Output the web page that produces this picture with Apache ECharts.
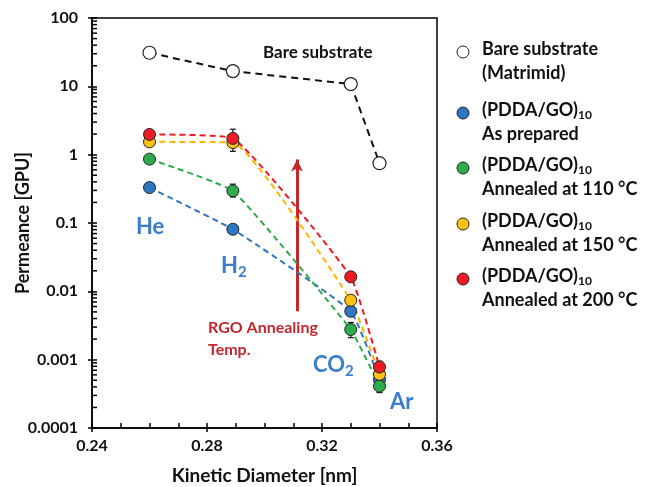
<!DOCTYPE html>
<html>
<head>
<meta charset="utf-8">
<script src="https://cdn.jsdelivr.net/npm/echarts@6/dist/echarts.min.js"></script>
<style>
  html, body { margin: 0; padding: 0; background: #fff; }
  #chart { width: 651px; height: 487px; }
</style>
</head>
<body>
<div id="chart"></div>
<script>
// kinetic diameters: He, H2, CO2, Ar
const kineticDiameter = [0.26, 0.289, 0.33, 0.34];

const bareSubstrate = [31, 16.7, 10.8, 0.75];
const asPrepared = [0.33, 0.081, 0.0051, 0.00051];
const annealed110 = [0.86, 0.295, 0.00276, 0.00041];
const annealed150 = [1.54, 1.5, 0.0074, 0.00061];
const annealed200 = [1.98, 1.73, 0.0163, 0.00078];

// [x, low, high]
const errorBars = [
  [0.289, 1.12, 2.36],
  [0.289, 0.24, 0.37],
  [0.33, 0.0021, 0.0035],
  [0.34, 0.00033, 0.0005],
  [0.34, 0.0007, 0.00095]
];

const yTickLabels = ["0.0001", "0.001", "0.01", "0.1", "1", "10", "100"];

const FONT = "Lato";
const BLUE = "#2e75c4";
const GREEN = "#2eab4b";
const YELLOW = "#ffc20e";
const RED = "#ed1c24";
const LABEL_BLUE = "#3a7dcc";
const DARK_RED = "#c1272d";

var myChart = echarts.init(document.getElementById("chart"));

// log-spaced minor ticks on y axis
const minorTicks = [];
for (let k = -4; k < 2; k++) {
  for (let m = 2; m <= 9; m++) {
    minorTicks.push([0.24, m * Math.pow(10, k)]);
  }
}

function toPoints(values) {
  return kineticDiameter.map((x, i) => [x, values[i]]);
}

function coloredSeries(name, values, fill, lineColor) {
  return {
    name: name,
    type: "line",
    data: toPoints(values),
    smooth: 0.12,
    symbol: "circle",
    symbolSize: 12,
    itemStyle: { color: fill, borderColor: "#222", borderWidth: 1 },
    lineStyle: { color: lineColor, width: 2, type: [6, 4] },
    z: 5
  };
}

const legendItems = [
  { color: "#fff", lines: ["Bare substrate", "(Matrimid)"], sub: false },
  { color: BLUE, lines: ["(PDDA/GO)", "As prepared"], sub: true },
  { color: GREEN, lines: ["(PDDA/GO)", "Annealed at 110 °C"], sub: true },
  { color: YELLOW, lines: ["(PDDA/GO)", "Annealed at 150 °C"], sub: true },
  { color: RED, lines: ["(PDDA/GO)", "Annealed at 200 °C"], sub: true }
];
const legendTop = [50, 111, 166, 222, 277];

const legendGraphic = [];
legendItems.forEach((item, i) => {
  const y = legendTop[i];
  legendGraphic.push({
    type: "circle",
    shape: { cx: 463, cy: y + 2, r: 6 },
    style: { fill: item.color, stroke: "#222", lineWidth: 1 }
  });
  legendGraphic.push({
    type: "text",
    left: 482,
    top: y - 10,
    style: {
      text: item.sub ? "{a|" + item.lines[0] + "}{s|10}" : item.lines[0],
      font: "bold 18px " + FONT,
      fill: "#111",
      rich: {
        a: { font: "bold 18px " + FONT, fill: "#111" },
        s: { font: "bold 12px " + FONT, fill: "#111", padding: [10, 0, 0, 0] }
      }
    }
  });
  legendGraphic.push({
    type: "text",
    left: 482,
    top: y + 14,
    style: { text: item.lines[1], font: "bold 18px " + FONT, fill: "#111" }
  });
});

const labelGraphic = [
  { type: "text", left: 263, top: 44, style: { text: "Bare substrate", font: "bold 17px " + FONT, fill: "#111" } },
  { type: "text", left: 136, top: 216, style: { text: "He", font: "bold 22px " + FONT, fill: LABEL_BLUE } },
  {
    type: "text", left: 221, top: 255,
    style: {
      text: "{a|H}{s|2}",
      rich: {
        a: { font: "bold 22px " + FONT, fill: LABEL_BLUE },
        s: { font: "bold 15px " + FONT, fill: LABEL_BLUE, padding: [12, 0, 0, 0] }
      }
    }
  },
  {
    type: "text", left: 313, top: 354,
    style: {
      text: "{a|CO}{s|2}",
      rich: {
        a: { font: "bold 22px " + FONT, fill: LABEL_BLUE },
        s: { font: "bold 15px " + FONT, fill: LABEL_BLUE, padding: [12, 0, 0, 0] }
      }
    }
  },
  { type: "text", left: 390, top: 391, style: { text: "Ar", font: "bold 22px " + FONT, fill: LABEL_BLUE } },
  { type: "text", left: 208, top: 320, style: { text: "RGO Annealing", font: "bold 16px " + FONT, fill: DARK_RED } },
  { type: "text", left: 208, top: 342, style: { text: "Temp.", font: "bold 16px " + FONT, fill: DARK_RED } }
];

myChart.setOption({
  animation: false,
  textStyle: { fontFamily: FONT },
  grid: {
    left: 92,
    right: 214,
    top: 18,
    bottom: 59,
    outerBoundsMode: "none",
    show: true,
    borderColor: "#000",
    borderWidth: 1.5
  },
  xAxis: [
    {
      type: "value",
      min: 0.24,
      max: 0.36,
      interval: 0.04,
      name: "Kinetic Diameter [nm]",
      nameLocation: "middle",
      nameGap: 38,
      nameMoveOverlap: false,
      nameTextStyle: { fontFamily: FONT, fontWeight: "bold", fontSize: 19, color: "#111" },
      axisLine: { lineStyle: { color: "#000", width: 1.5 } },
      axisTick: { inside: true, length: 5, lineStyle: { color: "#000", width: 1.5 } },
      minorTick: { show: true, splitNumber: 4, length: 5, lineStyle: { color: "#000", width: 1.5 } },
      splitLine: { show: false },
      axisLabel: {
        fontFamily: FONT,
        fontWeight: "bold",
        fontSize: 16,
        color: "#111",
        margin: 10,
        formatter: (v) => v.toFixed(2)
      }
    },
    {
      type: "value",
      position: "bottom",
      min: 0.24,
      max: 0.36,
      interval: 0.04,
      axisLine: { show: false },
      axisTick: { show: true, inside: false, length: 4, lineStyle: { color: "#000", width: 1.5 } },
      axisLabel: { show: false },
      splitLine: { show: false }
    }
  ],
  yAxis: [
    {
      type: "log",
      logBase: 10,
      min: 0.0001,
      max: 100,
      name: "Permeance [GPU]",
      nameLocation: "middle",
      nameGap: 60,
      nameMoveOverlap: false,
      nameTextStyle: { fontFamily: FONT, fontWeight: "bold", fontSize: 18, color: "#111" },
      axisLine: { lineStyle: { color: "#000", width: 1.5 } },
      axisTick: { inside: true, length: 5, lineStyle: { color: "#000", width: 1.5 } },
      splitLine: { show: false },
      axisLabel: {
        fontFamily: FONT,
        fontWeight: "bold",
        fontSize: 16,
        color: "#111",
        margin: 14,
        formatter: (v) => yTickLabels[Math.round(Math.log10(v)) + 4]
      }
    },
    {
      type: "log",
      logBase: 10,
      position: "left",
      min: 0.0001,
      max: 100,
      axisLine: { show: false },
      axisTick: { show: true, inside: false, length: 4, lineStyle: { color: "#000", width: 1.5 } },
      axisLabel: { show: false },
      splitLine: { show: false }
    }
  ],
  series: [
    {
      type: "custom",
      silent: true,
      clip: false,
      data: minorTicks,
      encode: { x: 0, y: 1 },
      renderItem: function (params, api) {
        const p = api.coord([api.value(0), api.value(1)]);
        return {
          type: "line",
          shape: { x1: p[0], y1: p[1], x2: p[0] + 5, y2: p[1] },
          style: { stroke: "#000", lineWidth: 1.5 }
        };
      },
      z: 3
    },
    {
      type: "custom",
      silent: true,
      data: errorBars,
      encode: { x: 0, y: [1, 2] },
      renderItem: function (params, api) {
        const lo = api.coord([api.value(0), api.value(1)]);
        const hi = api.coord([api.value(0), api.value(2)]);
        const st = { stroke: "#111", lineWidth: 1.2 };
        return {
          type: "group",
          children: [
            { type: "line", shape: { x1: lo[0], y1: lo[1], x2: hi[0], y2: hi[1] }, style: st },
            { type: "line", shape: { x1: lo[0] - 3, y1: lo[1], x2: lo[0] + 3, y2: lo[1] }, style: st },
            { type: "line", shape: { x1: hi[0] - 3, y1: hi[1], x2: hi[0] + 3, y2: hi[1] }, style: st }
          ]
        };
      },
      z: 4
    },
    {
      name: "Bare substrate",
      type: "line",
      data: toPoints(bareSubstrate),
      symbol: "circle",
      symbolSize: 13,
      itemStyle: { color: "#fff", borderColor: "#222", borderWidth: 1.2 },
      lineStyle: { color: "#111", width: 2, type: [7, 5] },
      z: 5
    },
    coloredSeries("As prepared", asPrepared, BLUE, BLUE),
    coloredSeries("Annealed at 110 °C", annealed110, GREEN, GREEN),
    coloredSeries("Annealed at 150 °C", annealed150, YELLOW, "#ffb400"),
    Object.assign(coloredSeries("Annealed at 200 °C", annealed200, RED, RED), {
      markLine: {
        silent: true,
        symbol: ["none", "arrow"],
        symbolSize: [9, 12],
        label: { show: false },
        lineStyle: { color: DARK_RED, width: 3, type: "solid" },
        data: [[{ coord: [0.3113, 0.0051] }, { coord: [0.3113, 0.85] }]]
      }
    })
  ],
  graphic: legendGraphic.concat(labelGraphic)
});

window.addEventListener("resize", () => {
  myChart.resize();
});
</script>
</body>
</html>
